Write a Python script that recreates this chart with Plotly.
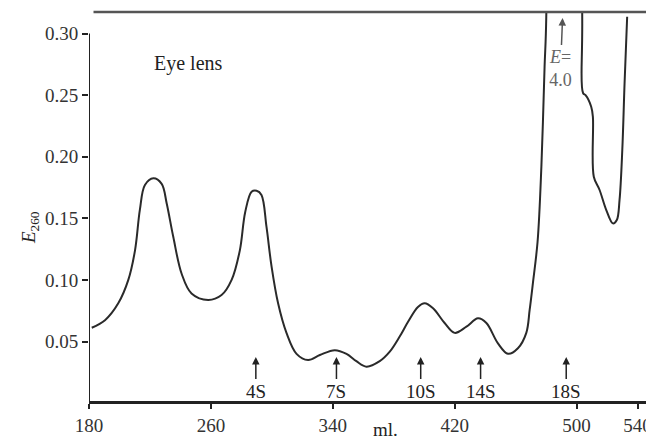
import plotly.graph_objects as go

# Elution profile (ml vs E260)
ml = [181.8, 190.5, 199.2, 205.8, 210.2, 213.4, 216.7, 222.2, 227.7, 231.0,
      235.3, 240.8, 247.3, 258.2, 267.0, 273.6, 279.0, 282.5, 286.7, 290.0,
      293.2, 296.5, 299.8, 304.1, 309.6, 316.2, 323.8, 331.5, 341.3, 349.0,
      355.5, 362.1, 370.8, 377.4, 383.9, 389.4, 395.9, 400.3, 405.8, 413.4,
      420.0, 427.7, 435.3, 440.8, 448.4, 455.0, 461.5, 467.0, 469.2, 471.3,
      474.4, 476.9, 479.0, 480.1, 490.8, 503.7, 504.3, 505.9, 509.6, 510.7,
      511.3, 515.1, 519.5, 523.8, 526.4, 528.2, 530.0, 531.5, 533.2]
e260 = [0.0612, 0.0673, 0.081, 0.100, 0.124, 0.157, 0.177, 0.1825, 0.178, 0.162,
        0.135, 0.105, 0.089, 0.0837, 0.0877, 0.100, 0.124, 0.155, 0.1716, 0.1724,
        0.169, 0.143, 0.111, 0.081, 0.057, 0.040, 0.035, 0.039, 0.043, 0.040,
        0.034, 0.0296, 0.034, 0.0417, 0.054, 0.066, 0.078, 0.081, 0.077, 0.065,
        0.057, 0.062, 0.0688, 0.065, 0.0485, 0.040, 0.0445, 0.057, 0.0756, 0.097,
        0.131, 0.192, 0.273, 0.3134, 4.0, 0.3134, 0.2515, 0.250, 0.2406, 0.2325,
        0.1838, 0.173, 0.1567, 0.1459, 0.1486, 0.1649, 0.2054, 0.2596, 0.3136]

# Sedimentation markers
marker_labels = ["4S", "7S", "10S", "14S", "18S"]
marker_ml = [289.5, 342.4, 397.7, 437.0, 493.2]

peak_ml = 490.8
peak_label = "<i>E</i>=<br>4.0"

x_ticks = [180, 260, 340, 420, 500, 540]
y_ticks = [0.05, 0.10, 0.15, 0.20, 0.25, 0.30]
y_ticktext = ["0.05", "0.10", "0.15", "0.20", "0.25", "0.30"]

X_RANGE = [180, 549.5]
Y_RANGE = [0.0017, 0.3175]

FONT = "Liberation Serif, Times New Roman, serif"
INK = "#222222"

fig = go.Figure()
fig.add_trace(go.Scatter(x=ml, y=e260, mode="lines",
                         line=dict(color="#2a2a2a", width=2, shape="spline", smoothing=1.0),
                         hoverinfo="skip", showlegend=False))

# The page body has an 8px margin, so the figure is sized 646x435 to fill 654x443
fig.update_layout(
    width=646, height=435,
    margin=dict(l=81, r=2, t=4, b=42, autoexpand=False),
    paper_bgcolor="white", plot_bgcolor="white",
    font=dict(family=FONT, size=19, color=INK),
    showlegend=False,
    xaxis=dict(range=X_RANGE, tickvals=x_ticks, ticks="outside", ticklen=5,
               tickwidth=1.5, tickcolor=INK, showline=True, linewidth=2.5,
               linecolor=INK, showgrid=False, zeroline=False, automargin=False,
               tickfont=dict(family=FONT, size=19, color="#333")),
    yaxis=dict(range=Y_RANGE, tickvals=y_ticks, ticktext=y_ticktext,
               ticks="outside", ticklen=6, tickwidth=1.5, tickcolor=INK,
               showline=False, showgrid=False, zeroline=False, automargin=False,
               tickfont=dict(family=FONT, size=19, color="#333")),
)

# left axis line (up to 0.30), top border and right border
fig.add_shape(type="line", xref="x", yref="y", x0=180, x1=180,
              y0=Y_RANGE[0], y1=0.30, line=dict(color=INK, width=2))
fig.add_shape(type="line", xref="paper", yref="paper", x0=0.008, x1=1.0,
              y0=1.0, y1=1.0, line=dict(color="#555555", width=2.5))
fig.add_shape(type="line", xref="paper", yref="y", x0=0.997, x1=0.997,
              y0=Y_RANGE[0], y1=0.284, line=dict(color="#444444", width=1.5))

for lab, xv in zip(marker_labels, marker_ml):
    fig.add_annotation(x=xv, y=0.0374, xref="x", yref="y", text=lab,
                       showarrow=True, ax=0, ay=34, arrowhead=2, arrowsize=1,
                       arrowwidth=1.5, arrowcolor=INK,
                       font=dict(family=FONT, size=19, color=INK))

fig.add_annotation(x=peak_ml, y=0.3126, xref="x", yref="y", text=peak_label,
                   showarrow=True, ax=-2, ay=50, arrowhead=2, arrowsize=1,
                   arrowwidth=1.5, arrowcolor="#555555",
                   font=dict(family=FONT, size=18, color="#666666"))

fig.add_annotation(x=245.6, y=0.276, xref="x", yref="y", text="Eye lens",
                   showarrow=False, font=dict(family=FONT, size=20, color=INK))

fig.add_annotation(x=374.8, y=-0.072, xref="x", yref="paper", text="ml.",
                   showarrow=False, yanchor="middle",
                   font=dict(family=FONT, size=19, color=INK))

fig.add_annotation(x=-0.1297, y=0.447, xref="paper", yref="paper",
                   text="<i>E</i><sub>260</sub>", textangle=-90, showarrow=False,
                   font=dict(family=FONT, size=19, color=INK))

fig.write_html("out.html")
